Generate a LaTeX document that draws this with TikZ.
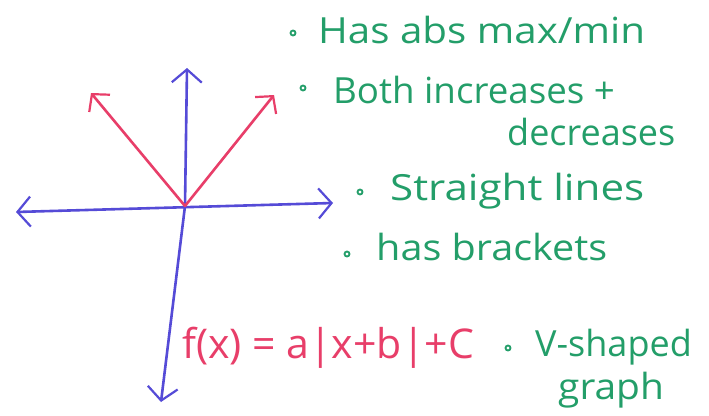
\documentclass[tikz,border=0pt]{standalone}
\usepackage{fontspec}
\usepackage{graphicx}
\setmainfont{Open Sans}
\usetikzlibrary{arrows.meta}
\definecolor{axisblue}{RGB}{85,75,215}
\definecolor{vred}{RGB}{232,62,105}
\definecolor{notegreen}{RGB}{35,158,105}
\newcommand{\wide}[2]{\scalebox{#1}[1]{#2}}
\tikzset{
  barb/.tip={Straight Barb[length=13pt,width=30pt,line width=2.2pt]},
  axis/.style={draw=axisblue, line width=2.6pt, line cap=round, barb-barb},
  arm/.style={draw=vred, line width=2.6pt, line cap=round, -{Straight Barb[length=12pt,width=27pt,line width=2.2pt]}},
  note/.style={text=notegreen, font=\fontsize{36}{40}\selectfont, anchor=base west, inner sep=0pt},
  formula/.style={text=vred, font=\fontsize{41}{46}\selectfont, anchor=base west, inner sep=0pt},
  bullet/.style={circle, draw=notegreen, line width=1.8pt, minimum size=5pt, inner sep=0pt}
}
\begin{document}
\begin{tikzpicture}[x=1pt,y=-1pt]
\useasboundingbox[fill=white] (0,0) rectangle (709,415);
% axes
\coordinate (xl) at (16,212);
\coordinate (xr) at (333,203);
\coordinate (yt) at (187,68);
\coordinate (yb) at (161,402);
\coordinate (o) at (185,206);
\coordinate (la) at (91,93);
\coordinate (ra) at (274,95);
\draw[axis] (xl) -- (xr);
\draw[axis] (yt) -- (o) -- (yb);
\draw[arm] (o) -- (la);
\draw[arm] (o) -- (ra);
% notes
\node[bullet] (b1) at (293,33) {};
\node[note] (t1) at (318,43) {\wide{1.12}{Has abs max/min}};
\node[bullet] (b2) at (303,88) {};
\node[note] (t2) at (333,103) {\wide{1.02}{Both increases +}};
\node[note] (t3) at (507,145) {decreases};
\node[bullet] (b3) at (360,192) {};
\node[note] (t4) at (390,200) {\wide{1.17}{Straight lines}};
\node[bullet] (b4) at (347,254) {};
\node[note] (t5) at (376,260) {\wide{1.1}{has brackets}};
\node[formula] (f) at (182,358) {f(x) = a|x+b|+C};
\node[bullet] (b5) at (508,348) {};
\node[note] (t6) at (535,356) {V-shaped};
\node[note] (t7) at (558,399) {\wide{1.08}{graph}};
\end{tikzpicture}
\end{document}
